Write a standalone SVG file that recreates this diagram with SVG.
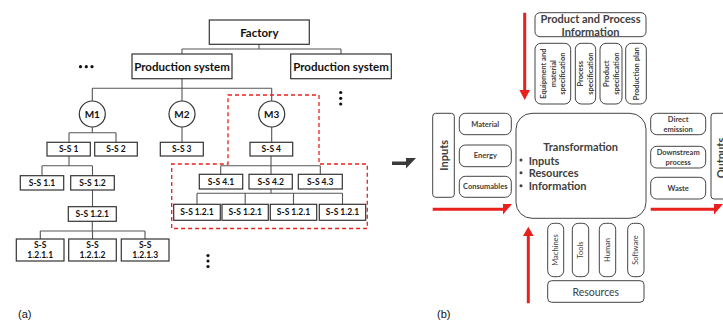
<svg xmlns="http://www.w3.org/2000/svg" width="723" height="321" viewBox="0 0 723 321">
<style>
  .bx { fill: #fff; stroke: #333; stroke-width: 1.2; }
  .rb { fill: #fff; stroke: #444; stroke-width: 1; }
  .ln { fill: none; stroke: #555; stroke-width: 1.1; }
  .t { font-family: Lato, "Liberation Sans", sans-serif; font-weight: bold; fill: #111; text-anchor: middle; dominant-baseline: central; }
  .t12 { font-size: 11.5px; }
  .t10 { font-size: 10px; }
  .t9 { font-size: 8.5px; }
  .g { font-family: Lato, "Liberation Sans", sans-serif; font-weight: bold; fill: #404040; text-anchor: middle; dominant-baseline: central; }
  .g11 { font-size: 11px; }
  .g8 { font-size: 7.5px; }
  .gr { font-family: Lato, "Liberation Sans", sans-serif; font-weight: normal; fill: #404040; text-anchor: middle; dominant-baseline: central; }
  .red { fill: none; stroke: #e8201e; stroke-width: 1.3; stroke-dasharray: 4 3; }
  .lab { font-family: "Liberation Sans", sans-serif; font-size: 11px; fill: #111; }
  .dot { fill: #111; }
</style>

<g id="connectors">
  <path class="ln" d="M259 44V49M182 49H341M182 49V54M341 49V54"/>
  <path class="ln" d="M182 78.7V88.3M92.3 88.3H271.7M92.3 88.3V101M182 88.3V101M271.7 88.3V101"/>
  <path class="ln" d="M92.3 127V132.7M69 132.7H116M69 132.7V142.3M116 132.7V142.3"/>
  <path class="ln" d="M182 127V142.3M271.7 127V142.3"/>
  <path class="ln" d="M69 156V165.7M42 165.7H92.5M42 165.7V175.7M92.5 165.7V175.7"/>
  <path class="ln" d="M92.5 190V206.7"/>
  <path class="ln" d="M92.3 221.3V231M40.3 231H145M40.3 231V239M92.5 231V239M145 231V239"/>
  <path class="ln" d="M271 156V165.7M220.7 165.7H320.3M220.7 165.7V174.3M271 165.7V174.3M320.3 165.7V174.3"/>
  <path class="ln" d="M271 189V193.3M197 193.3H342.5M197 193.3V204.3M245.2 193.3V204.3M293.5 193.3V204.3M342.5 193.3V204.3"/>
  <!-- middle arrow -->
  <path d="M392 161.5H406V158H416L406 168.5V165H392Z" fill="#3a3a3a"/>
  <!-- red arrows -->
  <path d="M523.2 12.7H526.2V90H530L524.7 100L519.4 90H523.2Z" fill="#e8201e"/>
  <path d="M432.7 207.8H503V204H512L503 214.6V210.8H432.7Z" fill="#e8201e"/>
  <path d="M526.8 303.3V236H523L528.3 226.7L533.6 236H529.8V303.3Z" fill="#e8201e"/>
  <path d="M650.7 207.8H714V204H723L714 214.6V210.8H650.7Z" fill="#e8201e"/>
</g>

<path class="red" d="M228 95H319V164H367.3V228.5H171.7V164H228Z"/>

<g id="factory"><rect class="bx" x="209.3" y="20" width="100" height="24.3"/><text class="t t12" x="259.3" y="32.5">Factory</text></g>
<g id="ps1"><rect class="bx" x="132" y="54" width="100" height="24.7"/><text class="t t12" x="182" y="66.5">Production system</text></g>
<g id="ps2"><rect class="bx" x="290.7" y="54" width="100.6" height="24.7"/><text class="t t12" x="341" y="66.5">Production system</text></g>
<g id="dots0"><circle class="dot" cx="80.5" cy="66.7" r="1.6"/><circle class="dot" cx="86.3" cy="66.7" r="1.6"/><circle class="dot" cx="92" cy="66.7" r="1.6"/></g>
<g id="dots1"><circle class="dot" cx="340.7" cy="92.5" r="1.6"/><circle class="dot" cx="340.7" cy="98.3" r="1.6"/><circle class="dot" cx="340.7" cy="104" r="1.6"/></g>
<g id="dots2"><circle class="dot" cx="208" cy="255.5" r="1.6"/><circle class="dot" cx="208" cy="261" r="1.6"/><circle class="dot" cx="208" cy="266.5" r="1.6"/></g>

<g id="m1"><circle class="bx" cx="92.3" cy="114" r="13"/><text class="t t10" x="92.3" y="114">M1</text></g>
<g id="m2"><circle class="bx" cx="182" cy="114" r="13"/><text class="t t10" x="182" y="114">M2</text></g>
<g id="m3"><circle class="bx" cx="271.7" cy="114" r="13"/><text class="t t10" x="271.7" y="114">M3</text></g>

<g id="ss1"><rect class="bx" x="47" y="142.3" width="43.3" height="13.7"/><text class="t t9" x="68.7" y="149.2">S-S 1</text></g>
<g id="ss2"><rect class="bx" x="94.7" y="142.3" width="42.6" height="13.7"/><text class="t t9" x="116" y="149.2">S-S 2</text></g>
<g id="ss3"><rect class="bx" x="160.3" y="142.3" width="43" height="13.7"/><text class="t t9" x="181.8" y="149.2">S-S 3</text></g>
<g id="ss4"><rect class="bx" x="250" y="142.3" width="42.7" height="13.7"/><text class="t t9" x="271.3" y="149.2">S-S 4</text></g>

<g id="ss11"><rect class="bx" x="20.3" y="175.7" width="43.4" height="14.3"/><text class="t t9" x="42" y="182.9">S-S 1.1</text></g>
<g id="ss12"><rect class="bx" x="70.7" y="175.7" width="43.6" height="14.3"/><text class="t t9" x="92.5" y="182.9">S-S 1.2</text></g>
<g id="ss121"><rect class="bx" x="68.3" y="206.7" width="48" height="14.6"/><text class="t t9" x="92.3" y="214">S-S 1.2.1</text></g>
<g id="ss1211"><rect class="bx" x="16.3" y="239" width="47.7" height="22"/><text class="t t9" x="40.2" y="245">S-S</text><text class="t t9" x="40.2" y="255.3">1.2.1.1</text></g>
<g id="ss1212"><rect class="bx" x="68.7" y="239" width="47.6" height="22"/><text class="t t9" x="92.5" y="245">S-S</text><text class="t t9" x="92.5" y="255.3">1.2.1.2</text></g>
<g id="ss1213"><rect class="bx" x="121.3" y="239" width="47.7" height="22"/><text class="t t9" x="145.2" y="245">S-S</text><text class="t t9" x="145.2" y="255.3">1.2.1.3</text></g>

<g id="ss41"><rect class="bx" x="199.3" y="174.3" width="43.4" height="14.7"/><text class="t t9" x="221" y="181.7">S-S 4.1</text></g>
<g id="ss42"><rect class="bx" x="249" y="174.3" width="43.3" height="14.7"/><text class="t t9" x="270.7" y="181.7">S-S 4.2</text></g>
<g id="ss43"><rect class="bx" x="298.3" y="174.3" width="44" height="14.7"/><text class="t t9" x="320.3" y="181.7">S-S 4.3</text></g>
<g id="ss421a"><rect class="bx" x="173.7" y="204.3" width="46.6" height="16"/><text class="t t9" x="197" y="212.3">S-S 1.2.1</text></g>
<g id="ss421b"><rect class="bx" x="222" y="204.3" width="46.3" height="16"/><text class="t t9" x="245.2" y="212.3">S-S 1.2.1</text></g>
<g id="ss421c"><rect class="bx" x="270.3" y="204.3" width="46.4" height="16"/><text class="t t9" x="293.5" y="212.3">S-S 1.2.1</text></g>
<g id="ss421d"><rect class="bx" x="319.3" y="204.3" width="46.4" height="16"/><text class="t t9" x="342.5" y="212.3">S-S 1.2.1</text></g>

<text class="lab" x="18" y="318">(a)</text>
<text class="lab" x="437" y="318">(b)</text>

<!-- right diagram -->
<g id="ppi"><rect class="rb" x="535" y="12.7" width="111" height="24" rx="5"/><text class="g g11" x="590.5" y="18.5">Product and Process</text><text class="g g11" x="590.5" y="31.5">Information</text></g>
<g id="equip"><rect class="rb" x="535" y="43.3" width="35.7" height="60.7" rx="6"/>
  <g transform="translate(553,73.7) rotate(-90)"><text class="g g8" x="0" y="-9.7">Equipment and</text><text class="g g8" x="0" y="0">material</text><text class="g g8" x="0" y="9.7">specification</text></g></g>
<g id="procspec"><rect class="rb" x="575.3" y="43.3" width="20.4" height="60.7" rx="6"/>
  <g transform="translate(585.5,73.7) rotate(-90)"><text class="g g8" x="0" y="-5">Process</text><text class="g g8" x="0" y="5">specification</text></g></g>
<g id="prodspec"><rect class="rb" x="600" y="43.3" width="22" height="60.7" rx="6"/>
  <g transform="translate(611,73.7) rotate(-90)"><text class="g g8" x="0" y="-5">Product</text><text class="g g8" x="0" y="5">specification</text></g></g>
<g id="prodplan"><rect class="rb" x="625.7" y="43.3" width="20.6" height="60.7" rx="6"/>
  <text class="g g8" transform="translate(636.5,73.7) rotate(-90)">Production plan</text></g>

<g id="inputs"><rect class="rb" x="432.7" y="113.3" width="21.6" height="84" rx="3"/><text class="g g11" transform="translate(443.5,155.3) rotate(-90)">Inputs</text></g>
<g id="material"><rect class="rb" x="459.3" y="113.3" width="52" height="21.4" rx="6"/><text class="g g8" x="485.3" y="124">Material</text></g>
<g id="energy"><rect class="rb" x="459.3" y="145" width="52" height="21.7" rx="6"/><text class="g g8" x="485.3" y="155.8">Energy</text></g>
<g id="consumables"><rect class="rb" x="459.3" y="176.3" width="52" height="21" rx="6"/><text class="g g8" x="485.3" y="186.8">Consumables</text></g>

<g id="transformation"><rect class="rb" x="516" y="113.3" width="130" height="105" rx="16"/>
  <text class="g g11" x="580.7" y="146.7">Transformation</text>
  <g font-family="Lato, 'Liberation Sans', sans-serif" font-weight="bold" font-size="11" fill="#404040" dominant-baseline="central">
    <circle cx="521" cy="160" r="1.5" fill="#404040"/><text x="528.7" y="160">Inputs</text>
    <circle cx="521" cy="172.7" r="1.5" fill="#404040"/><text x="528.7" y="172.7">Resources</text>
    <circle cx="521" cy="185.7" r="1.5" fill="#404040"/><text x="528.7" y="185.7">Information</text>
  </g></g>

<g id="direct"><rect class="rb" x="650.7" y="113.3" width="55" height="21.4" rx="6"/><text class="g g8" x="678.2" y="119">Direct</text><text class="g g8" x="678.2" y="129">emission</text></g>
<g id="downstream"><rect class="rb" x="650.7" y="146.3" width="55" height="21.7" rx="6"/><text class="g g8" x="678.2" y="152">Downstream</text><text class="g g8" x="678.2" y="162.3">process</text></g>
<g id="waste"><rect class="rb" x="650.7" y="177.3" width="55" height="21.7" rx="6"/><text class="g g8" x="678.2" y="188.2">Waste</text></g>
<g id="outputs"><rect class="rb" x="711" y="113.3" width="30" height="85.7" rx="3"/><text class="g g11" transform="translate(720,158) rotate(-90)">Outputs</text></g>

<g id="machines"><rect class="rb" x="547.7" y="223.3" width="16" height="53.4" rx="6"/><text class="gr g8" transform="translate(555.7,250) rotate(-90)">Machines</text></g>
<g id="tools"><rect class="rb" x="572.3" y="223.3" width="16.4" height="53.4" rx="6"/><text class="gr g8" transform="translate(580.5,250) rotate(-90)">Tools</text></g>
<g id="human"><rect class="rb" x="599.3" y="223.3" width="16.4" height="53.4" rx="6"/><text class="gr g8" transform="translate(607.5,250) rotate(-90)">Human</text></g>
<g id="software"><rect class="rb" x="627.7" y="223.3" width="16.3" height="53.4" rx="6"/><text class="gr g8" transform="translate(635.8,250) rotate(-90)">Software</text></g>
<g id="resources"><rect class="rb" x="547.7" y="280.7" width="96.3" height="21.6" rx="4"/><text class="gr" x="595.8" y="291.5" font-size="10.5">Resources</text></g>
</svg>
